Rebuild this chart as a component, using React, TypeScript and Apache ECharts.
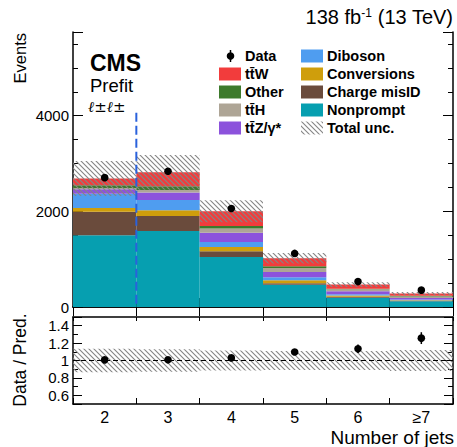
import React, { useEffect, useRef } from 'react';
import * as echarts from 'echarts';

// Jet-multiplicity bins
const jetBins = ['2', '3', '4', '5', '6', '≥7'];

// Prefit background yields per bin (stacked bottom to top)
const nonprompt = [1500, 1590, 1045, 465, 196, 120];
const chargeMisID = [490, 315, 120, 30, 20, 12];
const conversions = [80, 120, 90, 65, 25, 10];
const diboson = [300, 210, 105, 60, 25, 13];
const ttZ = [90, 160, 190, 110, 63, 35];
const ttH = [30, 50, 90, 85, 40, 30];
const other = [55, 80, 55, 35, 15, 15];
const ttW = [140, 290, 305, 170, 85, 45];

// Observed events and their statistical uncertainty
const observed = [2705, 2838, 2060, 1120, 532, 352];
const observedErr = [52, 53, 45, 33, 23, 19];

// Total (stat + syst) uncertainty on the prediction
const totalUnc = [366, 362, 230, 110, 51, 34];

const FONT = '"Liberation Sans", Arial, Helvetica, sans-serif';

const processes = [
  { name: 'Nonprompt', values: nonprompt, color: '#069fb0' },
  { name: 'Charge misID', values: chargeMisID, color: '#6a4b3c' },
  { name: 'Conversions', values: conversions, color: '#cf9e0c' },
  { name: 'Diboson', values: diboson, color: '#4f9df0' },
  { name: 'ttZ', values: ttZ, color: '#8c52dc' },
  { name: 'ttH', values: ttH, color: '#aea596' },
  { name: 'Other', values: other, color: '#3d7a2c' },
  { name: 'ttW', values: ttW, color: '#f23c3c' },
];

function makeHatch() {
  const s = 5;
  const c = document.createElement('canvas');
  c.width = s;
  c.height = s;
  const ctx = c.getContext('2d')!;
  ctx.strokeStyle = '#858585';
  ctx.lineWidth = 1.1;
  ctx.beginPath();
  ctx.moveTo(-1, -1);
  ctx.lineTo(s + 1, s + 1);
  ctx.moveTo(-1, s - 1);
  ctx.lineTo(1, s + 1);
  ctx.moveTo(s - 1, -1);
  ctx.lineTo(s + 1, 1);
  ctx.stroke();
  return { image: c, repeat: 'repeat', imageWidth: s, imageHeight: s } as any;
}

export default function App() {
  const ref = useRef<HTMLDivElement>(null);

  useEffect(() => {
    if (!ref.current) return;
    const chart = echarts.init(ref.current, undefined, { renderer: 'svg' });
    const hatch = makeHatch();

    const total = jetBins.map((_, i) =>
      processes.reduce((acc, p) => acc + p.values[i], 0)
    );
    const ratio = observed.map((d, i) => d / total[i]);
    const ratioErr = observedErr.map((e, i) => e / total[i]);
    const relUnc = totalUnc.map((u, i) => u / total[i]);

    const axisLine = { show: true, lineStyle: { color: '#000', width: 1.5 } };
    const tickStyle = { color: '#000', width: 1 };

    const catAxis = (grid: number, position: 'top' | 'bottom', len: number, labels: boolean) => ({
      type: 'category',
      gridIndex: grid,
      position,
      data: jetBins,
      boundaryGap: true,
      axisLine,
      axisTick: { show: true, inside: true, length: len, lineStyle: tickStyle },
      axisLabel: labels
        ? { show: true, color: '#000', fontSize: 16, fontFamily: FONT, margin: 5 }
        : { show: false },
      splitLine: { show: false },
    });

    const valAxis = (
      grid: number,
      position: 'left' | 'right',
      min: number,
      max: number,
      extra: any,
      len: number,
      labels: any,
      line: boolean
    ) => ({
      type: 'value',
      gridIndex: grid,
      position,
      min,
      max,
      ...extra,
      axisLine: line ? axisLine : { show: false },
      axisTick: { show: true, inside: true, length: len, lineStyle: tickStyle },
      axisLabel: labels || { show: false },
      splitLine: { show: false },
    });

    const mainLabels = {
      show: true,
      color: '#000',
      fontSize: 15,
      fontFamily: FONT,
      margin: 4,
      formatter: (v: number) => (v % 2000 === 0 ? String(v) : ''),
    };
    const ratioLabels = {
      show: true,
      color: '#000',
      fontSize: 15,
      fontFamily: FONT,
      margin: 4,
      formatter: (v: number) => {
        const r = Math.round(v * 10) / 10;
        return r === 0.5 || r === 1.5 ? '' : String(r);
      },
    };

    const yMax = 5750;
    const dashedTop = 4060;

    const barSeries = processes.map((p) => ({
      type: 'bar',
      name: p.name,
      stack: 'prediction',
      xAxisIndex: 0,
      yAxisIndex: 0,
      barCategoryGap: '0%',
      barWidth: '100%',
      data: p.values,
      itemStyle: { color: p.color },
      z: 2,
    }));

    const bandRender = (params: any, api: any) => {
      const i = api.value(0);
      const lo = api.coord([i, api.value(1)]);
      const hi = api.coord([i, api.value(2)]);
      const w = api.size([1, 0])[0];
      return {
        type: 'rect',
        shape: { x: lo[0] - w / 2, y: hi[1], width: w, height: lo[1] - hi[1] },
        style: { fill: hatch, stroke: null },
      };
    };

    const pointRender = (params: any, api: any) => {
      const i = api.value(0);
      const c = api.coord([i, api.value(1)]);
      const lo = api.coord([i, api.value(1) - api.value(2)]);
      const hi = api.coord([i, api.value(1) + api.value(2)]);
      return {
        type: 'group',
        children: [
          {
            type: 'line',
            shape: { x1: c[0], y1: lo[1], x2: c[0], y2: hi[1] },
            style: { stroke: '#000', lineWidth: 1.5 },
          },
          {
            type: 'circle',
            shape: { cx: c[0], cy: c[1], r: 3.8 },
            style: { fill: '#000' },
          },
        ],
      };
    };

    const legendRows = [56, 74, 92, 110, 128];
    const col1Box = 219;
    const col1Text = 245;
    const col2Box = 301;
    const col2Text = 327;
    const legendFont = { fontSize: 14.5, fontWeight: 'bold', fontFamily: FONT, fill: '#000' };

    const legendText = (x: number, y: number, text: string) => ({
      type: 'text',
      x,
      y,
      style: { text, ...legendFont, align: 'left', verticalAlign: 'middle' },
    });
    const legendBox = (x: number, y: number, fill: any) => ({
      type: 'rect',
      shape: { x, y: y - 6.5, width: 22, height: 13 },
      style: { fill },
    });

    const col1 = [
      { label: 't' + 't\u0304' + 'W', color: '#f23c3c' },
      { label: 'Other', color: '#3d7a2c' },
      { label: 't' + 't\u0304' + 'H', color: '#aea596' },
      { label: 't' + 't\u0304' + 'Z/γ*', color: '#8c52dc' },
    ];
    const col2 = [
      { label: 'Diboson', color: '#4f9df0' },
      { label: 'Conversions', color: '#cf9e0c' },
      { label: 'Charge misID', color: '#6a4b3c' },
      { label: 'Nonprompt', color: '#069fb0' },
    ];

    const graphic: any[] = [
      {
        type: 'text',
        x: 453,
        y: 17,
        style: {
          text: '138 fb{sup|-1} (13 TeV)',
          fontSize: 20,
          fontFamily: FONT,
          fill: '#000',
          align: 'right',
          verticalAlign: 'middle',
          rich: { sup: { fontSize: 12, fontFamily: FONT, verticalAlign: 'top', fill: '#000' } },
        },
      },
      {
        type: 'text',
        x: 90,
        y: 63,
        style: { text: 'CMS', fontSize: 23, fontWeight: 'bold', fontFamily: FONT, fill: '#000', verticalAlign: 'middle' },
      },
      {
        type: 'text',
        x: 90,
        y: 85,
        style: { text: 'Prefit', fontSize: 18.5, fontFamily: FONT, fill: '#000', verticalAlign: 'middle' },
      },
      {
        type: 'text',
        x: 88,
        y: 107,
        style: {
          text: 'ℓ±ℓ±',
          fontSize: 15,
          fontStyle: 'italic',
          fontFamily: '"DejaVu Serif", serif',
          fill: '#000',
          verticalAlign: 'middle',
        },
      },
      {
        type: 'text',
        x: 20,
        y: 33,
        rotation: Math.PI / 2,
        style: { text: 'Events', fontSize: 16.5, fontFamily: FONT, fill: '#000', align: 'right', verticalAlign: 'middle' },
      },
      {
        type: 'text',
        x: 20,
        y: 360,
        rotation: Math.PI / 2,
        style: { text: 'Data / Pred.', fontSize: 17.5, fontFamily: FONT, fill: '#000', align: 'center', verticalAlign: 'middle' },
      },
      {
        type: 'text',
        x: 454,
        y: 437,
        style: { text: 'Number of jets', fontSize: 19, fontFamily: FONT, fill: '#000', align: 'right', verticalAlign: 'middle' },
      },
      // legend: data marker
      {
        type: 'line',
        shape: { x1: 230.5, y1: legendRows[0] - 6, x2: 230.5, y2: legendRows[0] + 6 },
        style: { stroke: '#000', lineWidth: 1.5 },
      },
      { type: 'circle', shape: { cx: 230.5, cy: legendRows[0], r: 3.8 }, style: { fill: '#000' } },
      legendText(col1Text, legendRows[0], 'Data'),
      ...col1.flatMap((e, k) => [
        legendBox(col1Box, legendRows[k + 1], e.color),
        legendText(col1Text, legendRows[k + 1], e.label),
      ]),
      ...col2.flatMap((e, k) => [
        legendBox(col2Box, legendRows[k], e.color),
        legendText(col2Text, legendRows[k], e.label),
      ]),
      legendBox(col2Box, legendRows[4], hatch),
      legendText(col2Text, legendRows[4], 'Total unc.'),
    ];

    chart.setOption({
      animation: false,
      backgroundColor: '#fff',
      textStyle: { fontFamily: FONT },
      grid: [
        { left: 73, right: 4, top: 32, height: 275 },
        { left: 73, right: 4, top: 317, height: 87 },
      ],
      xAxis: [
        catAxis(0, 'bottom', 9, false),
        catAxis(0, 'top', 9, false),
        catAxis(1, 'bottom', 6, true),
        catAxis(1, 'top', 4, false),
      ],
      yAxis: [
        valAxis(0, 'left', 0, yMax, { interval: 2000 }, 10, mainLabels, true),
        valAxis(0, 'left', 0, yMax, { interval: 500 }, 5, null, false),
        valAxis(0, 'right', 0, yMax, { interval: 2000 }, 10, null, true),
        valAxis(0, 'right', 0, yMax, { interval: 500 }, 5, null, false),
        valAxis(1, 'left', 0.5, 1.5, { splitNumber: 5 }, 9, ratioLabels, true),
        valAxis(1, 'left', 0.5, 1.5, { interval: 0.1 }, 5, null, false),
        valAxis(1, 'right', 0.5, 1.5, { splitNumber: 5 }, 9, null, true),
        valAxis(1, 'right', 0.5, 1.5, { interval: 0.1 }, 5, null, false),
      ],
      series: [
        ...barSeries,
        {
          type: 'custom',
          name: 'Total unc.',
          xAxisIndex: 0,
          yAxisIndex: 0,
          renderItem: bandRender,
          data: total.map((t, i) => [i, t - totalUnc[i], t + totalUnc[i]]),
          encode: { x: 0, y: [1, 2] },
          z: 3,
          silent: true,
        },
        {
          type: 'custom',
          name: 'Data',
          xAxisIndex: 0,
          yAxisIndex: 0,
          renderItem: pointRender,
          data: observed.map((d, i) => [i, d, observedErr[i]]),
          encode: { x: 0, y: 1 },
          z: 5,
        },
        {
          type: 'custom',
          name: 'boundary',
          xAxisIndex: 0,
          yAxisIndex: 0,
          renderItem: (params: any, api: any) => {
            const w = api.size([1, 0])[0];
            const top = api.coord([0, dashedTop]);
            const bottom = api.coord([0, 0]);
            const x = top[0] + w / 2;
            return {
              type: 'line',
              shape: { x1: x, y1: top[1], x2: x, y2: bottom[1] },
              style: { stroke: '#2a62dc', lineWidth: 2, lineDash: [9, 4] },
            };
          },
          data: [[0]],
          z: 6,
          silent: true,
        },
        {
          type: 'custom',
          name: 'Ratio unc.',
          xAxisIndex: 2,
          yAxisIndex: 4,
          renderItem: bandRender,
          data: relUnc.map((u, i) => [i, 1 - u, 1 + u]),
          encode: { x: 0, y: [1, 2] },
          z: 3,
          silent: true,
          markLine: {
            silent: true,
            symbol: 'none',
            label: { show: false },
            lineStyle: { color: '#000', width: 1, type: [5, 3] },
            data: [{ yAxis: 1 }],
          },
        },
        {
          type: 'custom',
          name: 'Ratio',
          xAxisIndex: 2,
          yAxisIndex: 4,
          renderItem: pointRender,
          data: ratio.map((r, i) => [i, r, ratioErr[i]]),
          encode: { x: 0, y: 1 },
          z: 5,
        },
      ],
      graphic,
    });

    return () => chart.dispose();
  }, []);

  return (
    <div
      ref={ref}
      style={{ position: 'absolute', left: 0, top: 0, width: 457, height: 447 }}
    />
  );
}
